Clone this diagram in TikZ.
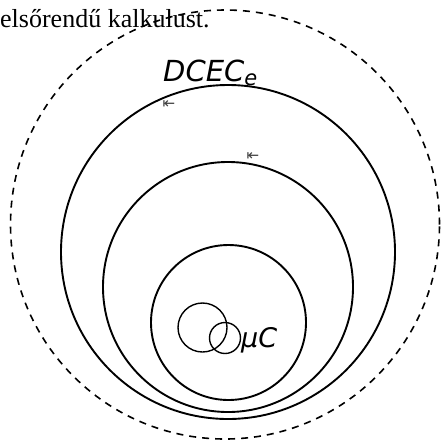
\documentclass[tikz,border=0pt]{standalone}
\usepackage{fontspec}
\setmainfont{Liberation Serif}
\newfontfamily\labelfont{DejaVu Sans}
\usepackage{tikz}
\usetikzlibrary{positioning}
\tikzset{
  logic-ring/.style={draw=black, circle, line width=1.9pt, inner sep=0pt, outer sep=0pt},
  logic-outer/.style={draw=black, circle, line width=1.6pt, dash pattern=on 7pt off 6pt,
    inner sep=0pt, outer sep=0pt},
  logic-small/.style={draw=black, circle, line width=1.4pt, inner sep=0pt, outer sep=0pt},
  logic-label/.style={font=\labelfont\itshape\fontsize{29}{29}\selectfont, inner sep=0pt},
  logic-mark/.style={font=\labelfont\fontsize{15}{15}\selectfont, text=black!75, inner sep=0pt}
}

\begin{document}
\begin{tikzpicture}[x=1pt, y=-1pt]
  \useasboundingbox (0,0) rectangle (441,440);

  % text line above the figure
  \node[anchor=base west, inner sep=0pt, font=\fontsize{26}{26}\selectfont] (caption) at (0,27) {elsőrendű kalkulust.};

  % outer dashed boundary
  \node[logic-outer, minimum size=429pt] (outer) at (225,224.5) {};

  % nested solid rings
  \node[logic-ring, minimum size=334pt] (ringA) at (228,252) {};
  \node[logic-ring, minimum size=250pt] (ringB) at (228,287) {};
  \node[logic-ring, minimum size=155pt] (ringC) at (228.5,322.5) {};

  % the two small overlapping circles
  \node[logic-small, minimum size=49pt] (smallA) at (202.5,327.5) {};
  \node[logic-small, minimum size=31pt] (smallB) at (225,338) {};

  % labels
  \node[logic-label, anchor=base west] (dcec) at (163,81) {DCEC\raisebox{-4pt}{\fontsize{21}{21}\selectfont e}};
  \node[logic-label, anchor=base west, font=\labelfont\itshape\fontsize{27}{27}\selectfont] (muc) at (241,347) {μC};

  % turnstile marks
  \node[logic-mark] (markA) at (169,105) {⇤};
  \node[logic-mark] (markB) at (253,157) {⇤};
\end{tikzpicture}
\end{document}
